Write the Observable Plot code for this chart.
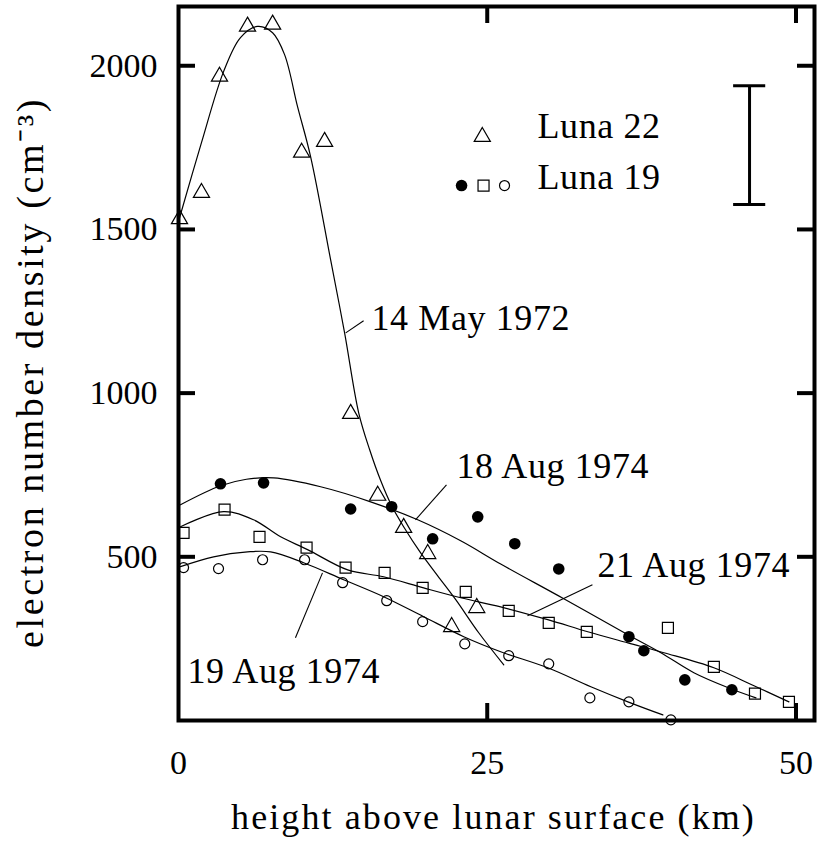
<!DOCTYPE html>
<html><head><meta charset="utf-8">
<script src="https://cdn.jsdelivr.net/npm/d3@7"></script>
<script src="https://cdn.jsdelivr.net/npm/@observablehq/plot@0.6"></script>
<style>
html,body{margin:0;padding:0;background:#fff;overflow:hidden}
</style>
</head><body><div id="chart"></div>
<script>
// ---- Luna 22, 14 May 1972 (open triangles) ----
const luna22X = [0.08, 1.86, 3.32, 5.59, 7.62, 9.97, 11.83, 13.94, 16.13, 18.23, 20.18, 22.12, 24.15];
const luna22Y = [1532, 1612, 1967, 2120, 2126, 1735, 1768, 937, 687, 589, 509, 286, 344];
// ---- Luna 19, 18 Aug 1974 (filled circles) ----
const aug18X = [3.40, 6.89, 13.94, 17.26, 20.58, 24.23, 27.23, 30.79, 36.47, 37.68, 41.00, 44.81];
const aug18Y = [723, 726, 646, 653, 555, 622, 540, 463, 256, 213, 124, 94];
// ---- Luna 19, 21 Aug 1974 (open squares) ----
const aug21X = [0.41, 3.73, 6.56, 10.37, 13.53, 16.69, 19.77, 23.26, 26.74, 29.98, 33.06, 39.63, 43.35, 46.68, 49.43];
const aug21Y = [573, 644, 561, 528, 467, 451, 405, 393, 335, 298, 271, 283, 164, 82, 57];
// ---- Luna 19, 19 Aug 1974 (open circles) ----
const aug19X = [0.41, 3.24, 6.81, 10.21, 13.29, 16.86, 19.77, 23.18, 26.74, 29.98, 33.31, 36.47, 39.87];
const aug19Y = [467, 464, 491, 491, 421, 366, 302, 234, 198, 173, 69, 57, 2];

// ---- fitted curves ----
const may14CurveX = [0.08, 1.86, 3.65, 5.02, 6.40, 7.62, 8.59, 9.64, 10.70, 12.32, 13.45, 14.59, 15.48, 16.37, 17.26, 18.23, 19.61, 20.99, 22.45, 24.31, 26.34];
const may14CurveY = [1535, 1765, 1982, 2086, 2120, 2101, 2034, 1875, 1722, 1407, 1184, 940, 827, 733, 656, 592, 512, 442, 369, 268, 170];
const aug18CurveX = [0.16, 3.40, 5.5, 7.70, 11.51, 15.56, 19.37, 22.85, 26.09, 31.20, 36.39, 39.06, 41.73, 44.73, 46.76];
const aug18CurveY = [659, 717, 737, 741, 714, 668, 613, 549, 478, 372, 262, 207, 146, 97, 69];
const aug21CurveX = [0.16, 3.65, 6.08, 8.27, 10.45, 13.70, 16.61, 19.85, 22.85, 26.09, 29.90, 33.14, 36.39, 39.30, 43.35, 46.60, 49.43];
const aug21CurveY = [592, 638, 613, 561, 522, 460, 439, 405, 375, 347, 308, 271, 237, 207, 161, 106, 57];
const aug19CurveX = [0.16, 2.84, 5.59, 7.46, 10.13, 13.37, 16.61, 19.85, 23.10, 26.09, 29.90, 33.39, 36.39, 39.22];
const aug19CurveY = [470, 500, 515, 515, 482, 430, 378, 317, 256, 210, 161, 103, 57, 17];

// ---- annotations ----
const curveLabels = ["14 May 1972", "18 Aug 1974", "21 Aug 1974", "19 Aug 1974"];
const curveLabelX = [15.63, 22.51, 33.93, 0.73];
const curveLabelY = [1229, 777, 474, 150];
const leaderX1 = [13.54, 19.19, 28.26, 9.47];
const leaderY1 = [1184, 613, 320, 253];
const leaderX2 = [14.99, 21.70, 33.52, 11.66];
const leaderY2 = [1221, 720, 415, 451];

// ---- legend ----
const legendLabels = ["Luna 22", "Luna 19"];
const legendLabelX = [29.07, 29.07];
const legendLabelY = [1815, 1660];
const legendTriangleX = [24.6], legendTriangleY = [1783];
const legendDotX = [22.92], legendDotY = [1634];
const legendSquareX = [24.70], legendSquareY = [1634];
const legendCircleX = [26.40], legendCircleY = [1634];

// ---- representative error bar ----
const errBarX = [46.24];
const errBarLow = [1576];
const errBarHigh = [1939];
const errCapX1 = [44.95];
const errCapX2 = [47.55];

// ---- axes ----
const xTickValues = [0, 25, 50];
const xTickMarks = [25, 50];
const yTickValues = [500, 1000, 1500, 2000];
const xTitle = "height above lunar surface (km)";
const yTitle = "electron number density (cm\u207B\u00B3)";

const toRows = (xs, ys) => xs.map((x, i) => ({x, y: ys[i]}));
const FONT = "Liberation Serif";
const W = 821, H = 842, ML = 178, MR = 7, MT = 6, MB = 122;
const PW = W - ML - MR, PH = H - MT - MB, TL = 17;

const line = (xs, ys) => Plot.line(toRows(xs, ys), {x: "x", y: "y", curve: "catmull-rom", stroke: "black", strokeWidth: 1.2});
const triangles = (xs, ys) => Plot.dot(toRows(xs, ys), {x: "x", y: "y", symbol: "triangle", r: 6, stroke: "black", fill: "none", strokeWidth: 1.2});
const filled = (xs, ys) => Plot.dot(toRows(xs, ys), {x: "x", y: "y", symbol: "circle", r: 5.8, fill: "black", stroke: "none"});
const squares = (xs, ys) => Plot.dot(toRows(xs, ys), {x: "x", y: "y", symbol: "square", r: 6.2, stroke: "black", fill: "none", strokeWidth: 1.2});
const circles = (xs, ys) => Plot.dot(toRows(xs, ys), {x: "x", y: "y", symbol: "circle", r: 5, stroke: "black", fill: "none", strokeWidth: 1.2});

const chart = Plot.plot({
  width: W, height: H,
  marginLeft: ML, marginRight: MR, marginTop: MT, marginBottom: MB,
  x: {domain: [0, 51.5], axis: null},
  y: {domain: [0, 2181], axis: null},
  style: {fontFamily: FONT, background: "white", color: "black"},
  marks: [
    line(may14CurveX, may14CurveY),
    line(aug18CurveX, aug18CurveY),
    line(aug21CurveX, aug21CurveY),
    line(aug19CurveX, aug19CurveY),
    triangles(luna22X, luna22Y),
    filled(aug18X, aug18Y),
    squares(aug21X, aug21Y),
    circles(aug19X, aug19Y),
    // leader lines and curve labels
    Plot.link(leaderX1.map((x, i) => ({x1: x, y1: leaderY1[i], x2: leaderX2[i], y2: leaderY2[i]})), {x1: "x1", y1: "y1", x2: "x2", y2: "y2", stroke: "black", strokeWidth: 1.1}),
    Plot.text(curveLabels.map((t, i) => ({t, x: curveLabelX[i], y: curveLabelY[i]})), {x: "x", y: "y", text: "t", textAnchor: "start", fontSize: 36, fill: "black"}),
    // legend
    triangles(legendTriangleX, legendTriangleY),
    filled(legendDotX, legendDotY),
    squares(legendSquareX, legendSquareY),
    circles(legendCircleX, legendCircleY),
    Plot.text(legendLabels.map((t, i) => ({t, x: legendLabelX[i], y: legendLabelY[i]})), {x: "x", y: "y", text: "t", textAnchor: "start", fontSize: 36, fill: "black"}),
    // error bar
    Plot.ruleX(errBarX.map((x, i) => ({x, y1: errBarLow[i], y2: errBarHigh[i]})), {x: "x", y1: "y1", y2: "y2", stroke: "black", strokeWidth: 3}),
    Plot.ruleY([...errBarLow, ...errBarHigh].map((y) => ({y, x1: errCapX1[0], x2: errCapX2[0]})), {y: "y", x1: "x1", x2: "x2", stroke: "black", strokeWidth: 3}),
    // inward ticks on all four sides
    Plot.tickX(xTickMarks, {x: (d) => d, insetTop: PH - TL, stroke: "black", strokeWidth: 4}),
    Plot.tickX(xTickMarks, {x: (d) => d, insetBottom: PH - TL, stroke: "black", strokeWidth: 4}),
    Plot.tickY(yTickValues, {y: (d) => d, insetRight: PW - TL, stroke: "black", strokeWidth: 4}),
    Plot.tickY(yTickValues, {y: (d) => d, insetLeft: PW - TL, stroke: "black", strokeWidth: 4}),
    Plot.frame({stroke: "black", strokeWidth: 4}),
    // tick labels
    Plot.axisX(xTickValues, {tickSize: 0, tickPadding: 29, fontSize: 34, label: null, tickFormat: (d) => String(d)}),
    Plot.axisY(yTickValues, {tickSize: 0, tickPadding: 21, fontSize: 34, label: null, tickFormat: (d) => String(d)}),
    // axis titles
    Plot.text([xTitle], {frameAnchor: "bottom", dy: 108, dx: -3, text: (d) => d, fontSize: 36, fill: "black", textAnchor: "middle"}),
    Plot.text([yTitle], {frameAnchor: "left", rotate: -90, dx: -148, dy: 9, text: (d) => d, fontSize: 38, fill: "black", textAnchor: "middle"})
  ]
});
document.getElementById("chart").appendChild(chart);

// letter spacing to approximate the wider Computer Modern set
d3.select(chart).selectAll("text").each(function () {
  const t = this.textContent;
  if (t === xTitle) this.style.letterSpacing = "2.1px";
  else if (t === yTitle) this.style.letterSpacing = "2.6px";
  else if (curveLabels.includes(t) || legendLabels.includes(t)) this.style.letterSpacing = "0.6px";
});
</script>
</body></html>
